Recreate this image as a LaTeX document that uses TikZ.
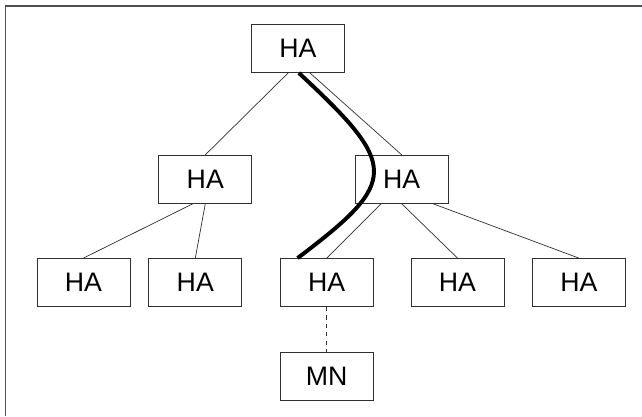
\documentclass[tikz,border=0pt]{standalone}
\usepackage{fontspec}
\setmainfont{Liberation Sans}
\usepackage{tikz}
\usetikzlibrary{calc,arrows.meta}
\usetikzlibrary{positioning}
\definecolor{ha-frame}{HTML}{505050}
\definecolor{ha-line}{HTML}{303030}
\definecolor{ha-route}{HTML}{000000}

\begin{document}
\begin{tikzpicture}[
    x=0.025cm, y=-0.025cm,
    hanode/.style={draw=ha-line, fill=white, line width=0.6pt, minimum width=2.325cm, minimum height=1.2cm, inner sep=0pt, align=center, font=\fontsize{19}{22}\selectfont},
    link/.style={draw=ha-line, line width=0.5pt},
    route/.style={draw=ha-route, line width=2.8pt}
]
\useasboundingbox (0,0) rectangle (642,416);

% ── Moldura ──────────────────────────────────────────────────
\draw[ha-frame, line width=1pt] (5.5,416) -- (5.5,6) -- (642,6);

% ── Nós HA ───────────────────────────────────────────────────
\node[hanode] (root) at (298, 48.5) {HA};
\node[hanode] (midL) at (205.3, 179.3) {HA};
\node[hanode] (midR) at (401.7, 179.3) {HA};
\node[hanode] (leaf1) at (83.5, 282.5) {HA};
\node[hanode] (leaf2) at (195.3, 282.5) {HA};
\node[hanode] (leaf3) at (326.7, 282.5) {HA};
\node[hanode] (leaf4) at (457.5, 282.5) {HA};
\node[hanode] (leaf5) at (578.8, 282.5) {HA};
\node[hanode] (mn) at (326.7, 376) {MN};

% ── Ligações ─────────────────────────────────────────────────
\draw[link] (root.248) -- (midL.north);
\draw[link] (root.296) -- (midR.north);
\draw[link] (midL.243) -- (leaf1.north);
\draw[link] (midL.south) -- (leaf2.north);
\draw[link] (midR.230) -- (leaf3.north);
\draw[link] (midR.south) -- (leaf4.north);
\draw[link] (midR.322) -- (leaf5.north);
\draw[link, dashed] (leaf3.south) -- (mn.north);

% ── Rota (curva grossa) ──────────────────────────────────────
\draw[route] (root.272) .. controls +(100,93) and +(102,-77) .. (leaf3.140);

\end{tikzpicture}
\end{document}
